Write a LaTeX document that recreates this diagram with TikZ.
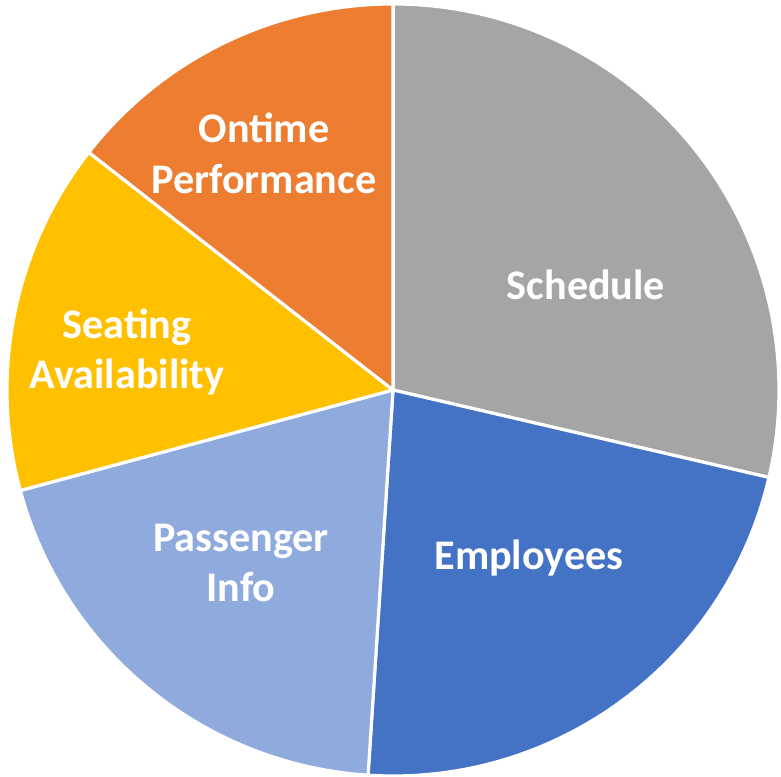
\documentclass[tikz,border=0pt]{standalone}
\usepackage{fontspec}
\setmainfont{Carlito}
\usepackage{tikz}

\definecolor{schedgray}{HTML}{A5A5A5}
\definecolor{emplblue}{HTML}{4472C4}
\definecolor{passblue}{HTML}{8FAADC}
\definecolor{seatgold}{HTML}{FFC000}
\definecolor{ontorange}{HTML}{ED7D31}

\tikzset{
  slice/.style={draw=white,line width=0.9pt,line join=round},
  slicelabel/.style={text=white,font=\fontsize{12}{14.5}\selectfont\bfseries,align=center}
}

\begin{document}
\begin{tikzpicture}
\useasboundingbox (-3.93,-3.87) rectangle (3.88,3.90);
\def\r{3.86}
% slices, clockwise from the top
\draw[slice,fill=schedgray] (0,0) -- (90:\r) arc (90:-13.1:\r) -- cycle;
\draw[slice,fill=emplblue] (0,0) -- (-13.1:\r) arc (-13.1:-93.7:\r) -- cycle;
\draw[slice,fill=passblue] (0,0) -- (-93.7:\r) arc (-93.7:-164.9:\r) -- cycle;
\draw[slice,fill=seatgold] (0,0) -- (195.1:\r) arc (195.1:142:\r) -- cycle;
\draw[slice,fill=ontorange] (0,0) -- (142:\r) arc (142:90:\r) -- cycle;

% labels
\node[slicelabel] (schedule) at (1.93,1.05) {Schedule};
\node[slicelabel] (employees) at (1.36,-1.68) {Employees};
\node[slicelabel] (passenger) at (-1.52,-1.73) {Passenger\\Info};
\node[slicelabel] (seating) at (-2.66,0.38) {Seating\\Availability};
\node[slicelabel] (ontime) at (-1.29,2.37) {Ontime\\Performance};
\end{tikzpicture}
\end{document}
